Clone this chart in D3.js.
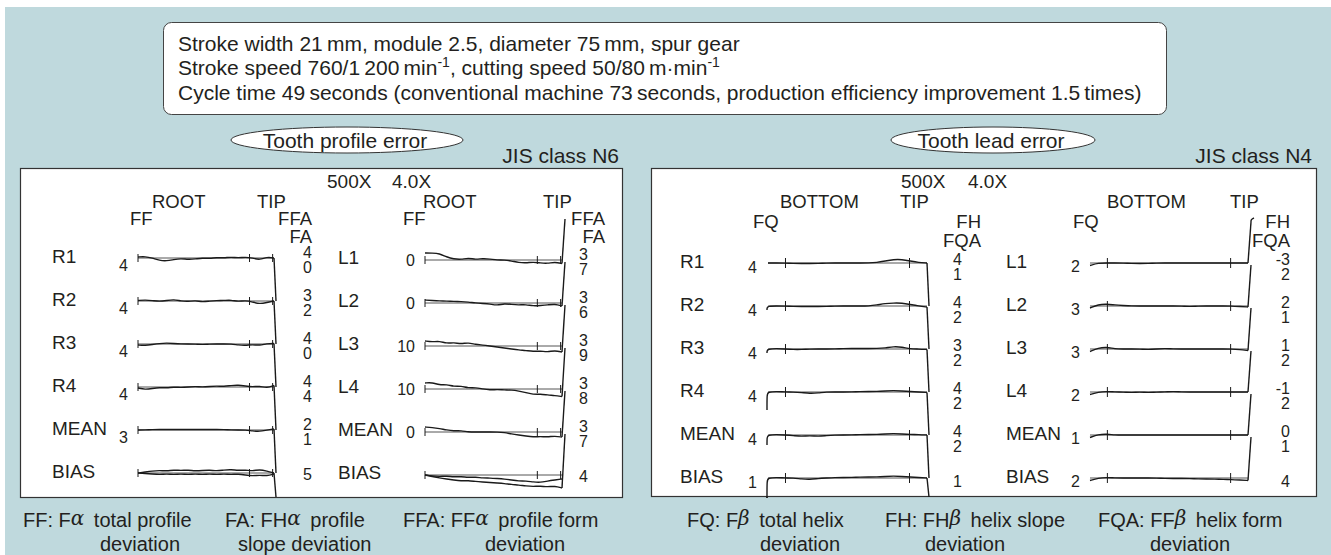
<!DOCTYPE html>
<html>
<head>
<meta charset="utf-8">
<script src="https://cdn.jsdelivr.net/npm/d3@7"></script>
<style>
  html, body { margin: 0; padding: 0; background: #fff; }
  svg { display: block; font-family: "Liberation Sans", Arial, Helvetica, sans-serif; }
  text { fill: #231f20; }
</style>
</head>
<body>
<svg id="chart" width="1331" height="555"></svg>
<script>
// ---- conditions text ----
const infoLine1 = ["Stroke width 21\u2009mm, module 2.5, diameter 75\u2009mm, spur gear"];
const infoLine2 = ["Stroke speed 760/1\u2009200\u2009min", "-1", ", cutting speed 50/80\u2009m\u00b7min", "-1"];
const infoLine3 = ["Cycle time 49\u2009seconds (conventional machine 73\u2009seconds, production efficiency improvement 1.5\u2009times)"];

// ---- tooth profile error (JIS class N6) ----
const profileRowsR = ["R1", "R2", "R3", "R4", "MEAN", "BIAS"];
const profileRowsL = ["L1", "L2", "L3", "L4", "MEAN", "BIAS"];
const profileFF_R  = ["4", "4", "4", "4", "3", ""];
const profileFFA_R = ["4", "3", "4", "4", "2", "5"];
const profileFA_R  = ["0", "2", "0", "4", "1", ""];
const profileFF_L  = ["0", "0", "10", "10", "0", ""];
const profileFFA_L = ["3", "3", "3", "3", "3", "4"];
const profileFA_L  = ["7", "6", "9", "8", "7", ""];
// evaluation markers, % of roll length
const profileMarks = [0, 82, 99];

// recorded deviation, 20 samples root -> tip (up = +)
const profileTraceR = [
  [1, 1.5, 0, -2.5, -3, -1.5, -0.5, -1.5, -1, 0, -0.5, 0.5, 0, 1, 0, 1, 0, -2, 1, 0],
  [0.5, 1, 0.5, -0.5, 0.5, 1.5, 0, -0.5, 0.5, -1, 0, 0.5, 0.5, 1, -0.5, 0.5, -1, -3, -1.5, 0],
  [-1, -1.5, -0.5, 0.5, 1, 0.5, 0, 0, 0, -0.5, 0, 0, 0, 0, -1, -1.5, -0.5, -1.5, 0.5, 0.5],
  [-1, -2.5, -1.5, -0.5, -1, 0, -0.5, 0, 0.5, 0, 0.5, 1, 0.5, 1.5, 2, 1, 0, 1, -1, 1.5],
  [0, 0, 0.5, 0.5, 0.5, 0.5, 0.5, 0.5, 0.5, 0.5, 0.5, 0.5, 0.5, 0, 0, 0, -1, -1.5, 0, 1],
  [0, 1, 2, 2.5, 2, 3, 2.5, 3, 2, 2.5, 3, 2, 3, 3.5, 2.5, 3, 2, 3.5, 2, 0]
];
const profileBiasR2 = [0, -0.5, -1, -1.5, -1, -1.5, -1, -1.5, -1, -1.5, -1, -1.5, -1, -1.5, -1, -2, -3, -2, -3, -1];
const profileTraceL = [
  [7, 7, 6.5, 3, 1, 0.5, 2, 0.5, 1.5, 1, 0, 0, -1, -2.5, -3, -2, -3, -3.5, -2, -3.5],
  [3, 2.5, 2, 2, 1.5, 1.5, 1, 0, -0.5, -1, -2.5, -0.5, -1.5, -2, -1.5, -3, -2.5, -2, -1, -3],
  [5, 4, 5, 2.5, 3.5, 2, 3.5, 1.5, 1, 0, -1, -2, -3, -4, -4.5, -5.5, -5, -6, -4.5, -6],
  [6, 6.5, 4, 4.5, 2.5, 3, 1, 1.5, 0, -1, -0.5, -1, -1, -2, -3.5, -5.5, -5, -6, -6.5, -7.5],
  [5, 4.5, 3.5, 2, 1, 1.5, 0, 0, 0, 0, 0, -0.5, -2, -3, -4, -5, -4.5, -5, -4, -5],
  [0, -1, -1.5, -1, -2, -1.5, -2.5, -2, -3, -3, -3.5, -4, -5, -6, -6, -7, -7.5, -6, -5, -4]
];
const profileBiasL2 = [0, -1.5, -3, -4, -5, -6, -5.5, -6.5, -7, -7.5, -8, -8.5, -9.5, -10, -11, -11.5, -11, -12, -11, -13];

// ---- tooth lead error (JIS class N4) ----
const leadRowsR = ["R1", "R2", "R3", "R4", "MEAN", "BIAS"];
const leadRowsL = ["L1", "L2", "L3", "L4", "MEAN", "BIAS"];
const leadFQ_R  = ["4", "4", "4", "4", "4", "1"];
const leadFH_R  = ["4", "4", "3", "4", "4", "1"];
const leadFQA_R = ["1", "2", "2", "2", "2", ""];
const leadFQ_L  = ["2", "3", "3", "2", "1", "2"];
const leadFH_L  = ["-3", "2", "1", "-1", "0", "4"];
const leadFQA_L = ["2", "1", "2", "2", "1", ""];
const leadMarks = [11, 89];
// start-of-trace drop on the right flank records
const leadHookR = [0, 4, 4, 18, 10, 20];

const leadTraceR = [
  [0, 0, 0, -0.5, -0.5, -0.5, -0.5, 0, 0, 0, 0, 0, 0, 0.5, 2, 3.5, 3.5, 2, 0.5, 0],
  [0, 0, 0, -0.5, -0.5, -0.5, -0.5, -0.5, 0, 0, 0, 0, 0, 1, 2.5, 3, 3, 1.5, 0, -1],
  [0, 0.5, 0, -0.5, -0.5, 0, 0, 0, 0, 0.5, 0.5, 0.5, 0.5, 0.5, 1, 2.5, 2, 0, 0, -0.5],
  [0, 0.5, 0, 0, -0.5, -1.5, -1, 0, 0, 0, 0, 0.5, 0.5, 0.5, 1, 1.5, 1, 0.5, 0, -0.5],
  [0, 0.5, 0, -0.5, -1.5, -0.5, -1.5, -0.5, 0, 0, 0, 0.5, 0.5, 0.5, 1, 1.5, 1, 0.5, 0.5, 0],
  [0, 0.5, 0, 0, -1, -1.5, -0.5, 0, 0.5, 0.5, 0.5, 1, 1, 1, 1.5, 2, 1.5, 1, 0.5, 0]
];
const leadTraceL = [
  [-2.5, 0, 0, 0, 0, -0.5, -0.5, -0.5, 0, 0, 0, 0, 0, 0, 0, 0, 0, 0, 0, 0],
  [-2, 1.5, 2, 1, 0.5, 0, 0, 0, 0, 0, 0, 0, -0.5, 0, 0, 0, 0, 0, -0.5, -1],
  [-2.5, 1, 2, 0, 0, 0, 0, -0.5, 0, 0.5, 0, 0, 0, 0, 0, 0, 0, 0, -0.5, -1.5],
  [-2.5, 0, 0.5, 0, 0, -0.5, 0, -0.5, 0, 0, 0.5, 0, 0, 0, 0, 0, 0, 0, 0, 0],
  [-2.5, 0.5, 1, 0, 0, 0, 0, 0, 0, 0, 0, 0, 0, 0, 0, 0, 0, 0, 0, 0],
  [-2.5, 0, 0.5, 0, 0, 0, 0, 0, 0, -0.5, -0.5, -0.5, -0.5, -1, -1, -1, -1.5, -1.5, -2, -2.5]
];

// ---- legend ----
const legendCode  = ["FF: F", "FA: FH", "FFA: FF", "FQ: F", "FH: FH", "FQA: FF"];
const legendGreek = ["\u03b1", "\u03b1", "\u03b1", "\u03b2", "\u03b2", "\u03b2"];
const legendRest  = ["total profile", "profile", "profile form", "total helix", "helix slope", "helix form"];
const legendLine2 = ["deviation", "slope deviation", "deviation", "deviation", "deviation", "deviation"];

const svg = d3.select("#chart");
const ink = "#1a1a1a";

svg.append("rect")
  .attr("x", 5).attr("y", 7).attr("width", 1326).attr("height", 548)
  .attr("fill", "#bfd9dd");

// conditions box
svg.append("rect")
  .attr("x", 163.5).attr("y", 22.5).attr("width", 1003).attr("height", 92)
  .attr("rx", 8)
  .attr("fill", "#fff").attr("stroke", "#444").attr("stroke-width", 1);

[infoLine1, infoLine2, infoLine3].forEach((parts, i) => {
  const t = svg.append("text")
    .attr("x", 178).attr("y", 50.5 + i * 24.5)
    .attr("font-size", 21);
  parts.forEach((p, k) => {
    const sup = k % 2 === 1;
    t.append("tspan")
      .attr("font-size", sup ? 14 : 21)
      .attr("dy", sup ? -8 : (k > 0 ? 8 : 0))
      .text(p);
  });
});

// titles
function titleEllipse(cx, rx, txt) {
  svg.append("ellipse")
    .attr("cx", cx).attr("cy", 140).attr("rx", rx).attr("ry", 13)
    .attr("fill", "#fff").attr("stroke", "#333").attr("stroke-width", 1);
  svg.append("text")
    .attr("x", cx - 2).attr("y", 147.5).attr("text-anchor", "middle")
    .attr("font-size", 21).text(txt);
}
titleEllipse(347, 116, "Tooth profile error");
titleEllipse(993, 102, "Tooth lead error");

svg.append("text").attr("x", 619).attr("y", 163).attr("text-anchor", "end")
  .attr("font-size", 21).text("JIS class N6");
svg.append("text").attr("x", 1312).attr("y", 163).attr("text-anchor", "end")
  .attr("font-size", 21).text("JIS class N4");

// panels
svg.append("rect").attr("x", 20.5).attr("y", 168.5).attr("width", 602).attr("height", 329)
  .attr("fill", "#fff").attr("stroke", "#333").attr("stroke-width", 1.2);
svg.append("rect").attr("x", 651.5).attr("y", 168.5).attr("width", 665).attr("height", 328)
  .attr("fill", "#fff").attr("stroke", "#333").attr("stroke-width", 1.2);

function label(x, y, txt, anchor, size) {
  svg.append("text").attr("x", x).attr("y", y)
    .attr("text-anchor", anchor || "start")
    .attr("font-size", size || 19)
    .text(txt);
}

label(327, 188, "500X"); label(392, 188, "4.0X");
label(901, 188, "500X"); label(968, 188, "4.0X");

function drawSub(s) {
  const g = svg.append("g");
  const x = d3.scaleLinear().domain([0, 100]).range([s.x0, s.x1]);
  const y = d3.scalePoint().domain(s.rows)
    .range([s.y0, s.y0 + s.step * (s.rows.length - 1)]);
  const dev = d3.scaleLinear().domain([-10, 10]).range([10, -10]);
  const pos = (arr) => arr.map((v, k) => [x(k * 100 / (arr.length - 1)), v]);
  const trace = d3.line().curve(d3.curveBasis);

  // headers
  s.headers.forEach(h => label(h[1], h[2], h[0], h[3], 18.5));

  s.rows.forEach((r, i) => {
    const yy = y(r);
    label(s.labelX, yy + s.labelDy, r);
    if (s.ff[i]) label(s.ffX, yy + s.ffDy, s.ff[i], "end", 16);
    if (s.bot[i]) {
      label(s.valX, yy + s.topDy, s.top[i], "end", 16);
      label(s.valX, yy + s.topDy + 15, s.bot[i], "end", 16);
    } else {
      label(s.valX, yy + s.topDy + 7, s.top[i], "end", 16);
    }

    // reference line + evaluation marks
    g.append("line")
      .attr("x1", x(0)).attr("x2", x(100)).attr("y1", yy).attr("y2", yy)
      .attr("stroke", "#555").attr("stroke-width", 1);
    s.marks.forEach(m => {
      g.append("line")
        .attr("x1", x(m)).attr("x2", x(m)).attr("y1", yy - s.markH).attr("y2", yy + s.markH)
        .attr("stroke", ink).attr("stroke-width", 1);
    });

    // recorded traces
    const series = [s.traces[i]];
    if (i === s.rows.length - 1 && s.bias2) series.push(s.bias2);
    series.forEach(arr => {
      const pts = pos(arr).map(p => [p[0], yy + dev(p[1])]);
      if (s.hook && s.hook[i]) {
        pts.unshift([x(0) - 1, yy + dev(arr[0]) + 2]);
        pts.unshift([x(0) - 1, yy + dev(arr[0]) + s.hook[i]]);
        pts.unshift([x(0) - 1, yy + dev(arr[0]) + s.hook[i]]);
      }
      g.append("path")
        .attr("d", trace(pts))
        .attr("fill", "none").attr("stroke", ink).attr("stroke-width", 1.4);
    });

    // slope tail at the end of each record
    const last = s.traces[i][s.traces[i].length - 1];
    const ex = x(100), ey = yy + dev(last);
    let ty;
    if (s.tail === "down") {
      ty = i < s.rows.length - 1 ? y(s.rows[i + 1]) : s.bottom;
      g.append("line").attr("x1", ex).attr("y1", ey).attr("x2", ex + 2).attr("y2", ty)
        .attr("stroke", ink).attr("stroke-width", 1.4);
    } else {
      ty = yy - s.step + 2;
      const ly = i === s.rows.length - 1 && s.bias2 ? yy + dev(s.bias2[s.bias2.length - 1]) : ey;
      g.append("line").attr("x1", ex).attr("y1", ly).attr("x2", ex + 3).attr("y2", ty)
        .attr("stroke", ink).attr("stroke-width", 1.4);
      if (i === 0 && s.topHook) {
        g.append("path")
          .attr("d", trace([[ex + 3, ty], [ex + 3, ty - 2], [ex + 4, ty - 3], [ex + 6, ty - 4]]))
          .attr("fill", "none").attr("stroke", ink).attr("stroke-width", 1.4);
      }
    }
    // open left edge on the lead BIAS record
    if (s.hook && i === s.rows.length - 1) {
      g.append("line").attr("x1", x(0) - 1).attr("x2", x(0) - 1)
        .attr("y1", yy + s.hook[i]).attr("y2", s.bottom)
        .attr("stroke", ink).attr("stroke-width", 1.4);
    }
  });
}

drawSub({
  rows: profileRowsR, ff: profileFF_R, top: profileFFA_R, bot: profileFA_R,
  traces: profileTraceR, bias2: profileBiasR2, marks: profileMarks,
  x0: 138, x1: 274, y0: 258, step: 43, bottom: 497, markH: 4,
  labelX: 52, labelDy: 5, ffX: 128, ffDy: 13, valX: 312, topDy: 0, tail: "down",
  headers: [["ROOT", 152, 208], ["TIP", 257, 208], ["FF", 130, 225], ["FFA", 312, 225, "end"], ["FA", 312, 243, "end"]]
});
drawSub({
  rows: profileRowsL, ff: profileFF_L, top: profileFFA_L, bot: profileFA_L,
  traces: profileTraceL, bias2: profileBiasL2, marks: profileMarks,
  x0: 425, x1: 562, y0: 260, step: 43, bottom: 497, markH: 4,
  labelX: 338, labelDy: 4, ffX: 415, ffDy: 6, valX: 588, topDy: 0, tail: "up",
  headers: [["ROOT", 423, 208], ["TIP", 543, 208], ["FF", 403, 225], ["FFA", 605, 225, "end"], ["FA", 605, 243, "end"]]
});
drawSub({
  rows: leadRowsR, ff: leadFQ_R, top: leadFH_R, bot: leadFQA_R,
  traces: leadTraceR, marks: leadMarks, hook: leadHookR,
  x0: 768, x1: 927, y0: 263, step: 43, bottom: 497, markH: 5,
  labelX: 680, labelDy: 5, ffX: 757, ffDy: 10, valX: 962, topDy: 2, tail: "down",
  headers: [["BOTTOM", 780, 208], ["TIP", 900, 208], ["FQ", 753, 228], ["FH", 981, 228, "end"], ["FQA", 981, 247, "end"]]
});
drawSub({
  rows: leadRowsL, ff: leadFQ_L, top: leadFH_L, bot: leadFQA_L,
  traces: leadTraceL, marks: leadMarks, topHook: true,
  x0: 1090, x1: 1248, y0: 263, step: 43, bottom: 497, markH: 5,
  labelX: 1006, labelDy: 5, ffX: 1080, ffDy: 9, valX: 1290, topDy: 2, tail: "up",
  headers: [["BOTTOM", 1107, 208], ["TIP", 1230, 208], ["FQ", 1073, 228], ["FH", 1290, 228, "end"], ["FQA", 1290, 247, "end"]]
});

// legend
const legendX1 = [23, 225, 403, 687, 885, 1098];
const legendX2 = [100, 238, 485, 760, 925, 1150];
legendCode.forEach((c, i) => {
  const t = svg.append("text").attr("x", legendX1[i]).attr("y", 527).attr("font-size", 20);
  t.append("tspan").text(c);
  t.append("tspan").attr("font-family", "'DejaVu Serif', serif").attr("font-style", "italic")
    .attr("font-size", 20).attr("dy", -2).text(legendGreek[i]);
  t.append("tspan").attr("dy", 2).text("\u00a0\u2009" + legendRest[i]);
  svg.append("text").attr("x", legendX2[i]).attr("y", 551).attr("font-size", 20).text(legendLine2[i]);
});
</script>
</body>
</html>
